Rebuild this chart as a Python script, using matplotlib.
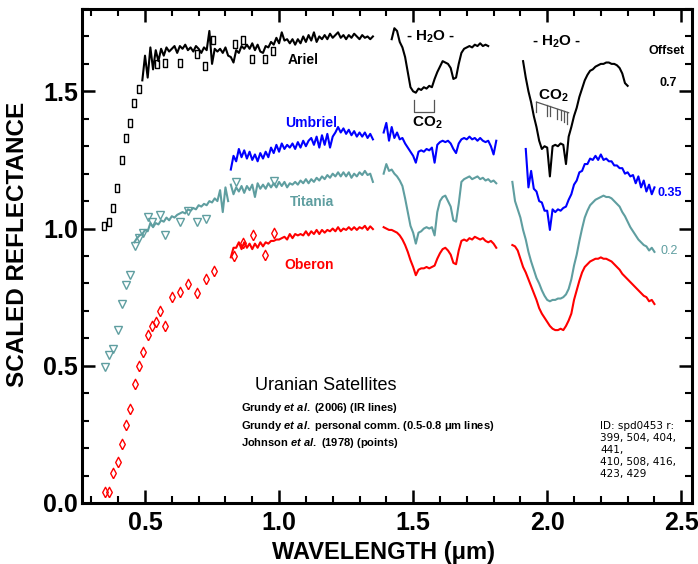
import matplotlib
matplotlib.use("Agg")
import matplotlib.pyplot as plt
import matplotlib.ticker as ticker
from matplotlib import rcParams

rcParams["font.family"] = ["Liberation Sans", "DejaVu Sans"]
rcParams["mathtext.fontset"] = "custom"
rcParams["mathtext.rm"] = "Liberation Sans:bold"
rcParams["mathtext.it"] = "Liberation Sans:italic:bold"
rcParams["mathtext.bf"] = "Liberation Sans:bold"

# wavelength grids (um) of the spectra
wl_vis = [0.46, 0.47, 0.48, 0.49, 0.50, 0.51, 0.52, 0.53, 0.54, 0.55, 0.56, 0.57,
          0.58, 0.59, 0.60, 0.61, 0.62, 0.63, 0.64, 0.65, 0.66, 0.67, 0.68, 0.69,
          0.70, 0.71, 0.72, 0.73, 0.74, 0.75, 0.76, 0.77, 0.78, 0.79, 0.80, 0.81]
wl_ir1 = [0.82, 0.83, 0.84, 0.85, 0.86, 0.87, 0.88, 0.89, 0.90, 0.91, 0.92, 0.93,
          0.94, 0.95, 0.96, 0.97, 0.98, 0.99, 1.00, 1.01, 1.02, 1.03, 1.04, 1.05,
          1.06, 1.07, 1.08, 1.09, 1.10, 1.11, 1.12, 1.13, 1.14, 1.15, 1.16, 1.17,
          1.18, 1.19, 1.20, 1.21, 1.22, 1.23, 1.24, 1.25, 1.26, 1.27, 1.28, 1.29,
          1.30, 1.31, 1.32, 1.33, 1.34, 1.35]
wl_ir2 = [1.39, 1.40, 1.41, 1.42, 1.43, 1.44, 1.45, 1.46, 1.47, 1.48, 1.49, 1.50,
          1.51, 1.52, 1.53, 1.54, 1.55, 1.56, 1.57, 1.58, 1.59, 1.60, 1.61, 1.62,
          1.63, 1.64, 1.65, 1.66, 1.67, 1.68, 1.69, 1.70, 1.71, 1.72, 1.73, 1.74,
          1.75, 1.76, 1.77, 1.78, 1.79, 1.80, 1.81]
wl_ir3 = [1.87, 1.88, 1.89, 1.90, 1.91, 1.92, 1.93, 1.94, 1.95, 1.96, 1.97, 1.98,
          1.99, 2.00, 2.01, 2.02, 2.03, 2.04, 2.05, 2.06, 2.07, 2.08, 2.09, 2.10,
          2.11, 2.12, 2.13, 2.14, 2.15, 2.16, 2.17, 2.18, 2.19, 2.20, 2.21, 2.22,
          2.23, 2.24, 2.25, 2.26, 2.27, 2.28, 2.29, 2.30, 2.31, 2.32, 2.33, 2.34,
          2.35, 2.36, 2.37, 2.38, 2.39, 2.40]

# Ariel (offset +0.7)
ariel_vis = [1.54, 1.63, 1.55, 1.66, 1.58, 1.65, 1.61, 1.655, 1.63, 1.66, 1.645,
             1.655, 1.665, 1.64, 1.665, 1.655, 1.67, 1.65, 1.66, 1.645, 1.665,
             1.655, 1.64, 1.66, 1.65, 1.72, 1.60, 1.655, 1.645, 1.655, 1.64, 1.66,
             1.63]
ariel_ir1 = [1.625, 1.605, 1.65, 1.64, 1.665, 1.655, 1.67, 1.655, 1.675, 1.65,
             1.67, 1.645, 1.64, 1.665, 1.66, 1.68, 1.67, 1.695, 1.675, 1.715,
             1.685, 1.69, 1.675, 1.69, 1.67, 1.69, 1.675, 1.70, 1.68, 1.705,
             1.685, 1.715, 1.68, 1.70, 1.69, 1.705, 1.69, 1.71, 1.695, 1.705,
             1.715, 1.695, 1.705, 1.69, 1.705, 1.695, 1.71, 1.70, 1.69, 1.705,
             1.695, 1.70, 1.69, 1.70]
ariel_ir2 = [1.69, 1.73, 1.72, 1.68, 1.66, 1.625, 1.57, 1.515, 1.50, 1.495, 1.51,
             1.505, 1.515, 1.51, 1.52, 1.515, 1.545, 1.57, 1.59, 1.61, 1.605, 1.60,
             1.585, 1.545, 1.55, 1.60, 1.64, 1.655, 1.66, 1.665, 1.66, 1.67, 1.665,
             1.675, 1.665, 1.67, 1.665]
ariel_ir3 = [1.61, 1.55, 1.50, 1.46, 1.41, 1.37, 1.32, 1.29, 1.30, 1.295, 1.19,
             1.30, 1.305, 1.30, 1.31, 1.305, 1.235, 1.335, 1.37, 1.41, 1.44, 1.48,
             1.51, 1.54, 1.56, 1.575, 1.58, 1.59, 1.595, 1.60, 1.60, 1.605, 1.605,
             1.60, 1.60, 1.595, 1.585, 1.565, 1.53, 1.52]

# Umbriel (offset +0.35)
umbriel_ir1 = [1.215, 1.265, 1.245, 1.29, 1.26, 1.285, 1.255, 1.28, 1.25, 1.27,
               1.245, 1.275, 1.255, 1.28, 1.26, 1.295, 1.275, 1.305, 1.28, 1.31,
               1.29, 1.305, 1.295, 1.31, 1.29, 1.315, 1.295, 1.32, 1.30, 1.32,
               1.33, 1.305, 1.335, 1.295, 1.34, 1.305, 1.345, 1.295, 1.335, 1.35,
               1.37, 1.35, 1.365, 1.345, 1.36, 1.34, 1.355, 1.335, 1.35, 1.335,
               1.35, 1.33, 1.345, 1.325]
umbriel_ir2 = [1.35, 1.385, 1.32, 1.37, 1.33, 1.35, 1.325, 1.33, 1.31, 1.295, 1.28,
               1.265, 1.24, 1.28, 1.285, 1.28, 1.29, 1.285, 1.295, 1.24, 1.305,
               1.315, 1.32, 1.315, 1.32, 1.31, 1.29, 1.275, 1.31, 1.325, 1.33, 1.325,
               1.335, 1.325, 1.33, 1.32, 1.33, 1.32, 1.315, 1.32, 1.30, 1.27, 1.32]
umbriel_ir3 = [1.29, 1.15, 1.21, 1.145, 1.135, 1.10, 1.095, 1.065, 1.065, 0.995,
               1.07, 1.06, 1.07, 1.065, 1.075, 1.08, 1.105, 1.125, 1.16, 1.175,
               1.205, 1.21, 1.235, 1.235, 1.255, 1.25, 1.265, 1.25, 1.27, 1.25,
               1.255, 1.245, 1.245, 1.23, 1.23, 1.22, 1.22, 1.20, 1.205, 1.19,
               1.195, 1.165, 1.19, 1.15, 1.175, 1.135, 1.16, 1.125, 1.15]

# Titania (offset +0.2)
titania_vis = [0.95, 0.965, 0.975, 0.98, 0.995, 0.99, 1.02, 1.005, 1.02, 1.015,
               1.03, 1.025, 1.04, 1.03, 1.045, 1.04, 1.05, 1.055, 1.06, 1.055, 1.07,
               1.065, 1.075, 1.07, 1.085, 1.08, 1.09, 1.085, 1.10, 1.095, 1.11, 1.10,
               1.14, 1.06, 1.15, 1.10]
titania_ir1 = [1.16, 1.125, 1.15, 1.135, 1.155, 1.13, 1.155, 1.14, 1.16, 1.115,
               1.165, 1.145, 1.16, 1.145, 1.165, 1.15, 1.165, 1.15, 1.17, 1.155,
               1.17, 1.15, 1.165, 1.16, 1.17, 1.16, 1.175, 1.165, 1.18, 1.165,
               1.18, 1.17, 1.185, 1.175, 1.19, 1.18, 1.195, 1.185, 1.20, 1.19,
               1.205, 1.19, 1.205, 1.19, 1.205, 1.185, 1.20, 1.19, 1.205, 1.195,
               1.21, 1.195, 1.20, 1.17]
titania_ir2 = [1.20, 1.235, 1.21, 1.215, 1.20, 1.19, 1.175, 1.155, 1.11, 1.06, 1.01,
               0.985, 0.945, 0.985, 0.99, 1.00, 1.005, 1.00, 1.005, 0.975, 1.06, 1.10,
               1.115, 1.12, 1.10, 1.08, 1.03, 1.025, 1.09, 1.17, 1.18, 1.185, 1.19,
               1.18, 1.185, 1.19, 1.18, 1.185, 1.175, 1.18, 1.17, 1.175, 1.165]
titania_ir3 = [1.17, 1.10, 1.07, 1.04, 0.995, 0.96, 0.915, 0.88, 0.85, 0.82, 0.80,
               0.775, 0.755, 0.74, 0.735, 0.74, 0.74, 0.745, 0.745, 0.75, 0.76, 0.78,
               0.815, 0.865, 0.905, 0.955, 1.00, 1.04, 1.065, 1.085, 1.095, 1.105,
               1.11, 1.115, 1.12, 1.115, 1.115, 1.11, 1.10, 1.09, 1.08, 1.06, 1.045,
               1.025, 1.005, 0.99, 0.975, 0.96, 0.95, 0.94, 0.935, 0.92, 0.93, 0.915]

# Oberon (no offset)
oberon_ir1 = [0.895, 0.93, 0.93, 0.95, 0.925, 0.95, 0.93, 0.945, 0.925, 0.945,
              0.93, 0.95, 0.935, 0.95, 0.945, 0.955, 0.955, 0.96, 0.96, 0.965,
              0.97, 0.96, 0.98, 0.965, 0.98, 0.975, 0.98, 0.975, 0.99, 0.975,
              0.99, 0.98, 0.995, 0.98, 0.995, 0.985, 0.995, 0.99, 1.0, 0.99,
              1.005, 0.99, 1.0, 0.995, 1.005, 0.995, 1.005, 0.995, 1.005, 1.0,
              1.01, 0.995, 1.008, 0.998]
oberon_ir2 = [1.005, 1.00, 0.995, 0.995, 0.99, 0.985, 0.975, 0.96, 0.94, 0.915,
              0.885, 0.86, 0.83, 0.85, 0.855, 0.855, 0.86, 0.855, 0.86, 0.865, 0.89,
              0.91, 0.925, 0.93, 0.92, 0.905, 0.875, 0.87, 0.92, 0.955, 0.96, 0.955,
              0.965, 0.96, 0.97, 0.965, 0.96, 0.965, 0.955, 0.95, 0.955, 0.945, 0.93]
oberon_ir3 = [0.94, 0.935, 0.92, 0.89, 0.86, 0.84, 0.815, 0.79, 0.765, 0.74, 0.71,
              0.69, 0.675, 0.66, 0.645, 0.635, 0.63, 0.63, 0.635, 0.63, 0.645, 0.665,
              0.69, 0.74, 0.775, 0.81, 0.84, 0.86, 0.87, 0.88, 0.885, 0.89, 0.89,
              0.895, 0.89, 0.89, 0.885, 0.88, 0.87, 0.86, 0.85, 0.835, 0.825, 0.815,
              0.805, 0.795, 0.785, 0.775, 0.765, 0.755, 0.75, 0.735, 0.74, 0.725]

# Johnson et al. (1978) photometry points
ariel_pts_x = [0.348, 0.366, 0.380, 0.397, 0.413, 0.429, 0.444, 0.460, 0.477, 0.546,
               0.574, 0.630, 0.694, 0.724, 0.755, 0.836, 0.865, 0.900, 0.947, 0.977]
ariel_pts_y = [1.008, 1.023, 1.076, 1.149, 1.248, 1.331, 1.383, 1.456, 1.510, 1.598,
               1.605, 1.605, 1.635, 1.592, 1.686, 1.674, 1.687, 1.619, 1.619, 1.647]
titania_pts_x = [0.349, 0.367, 0.382, 0.399, 0.415, 0.430, 0.445, 0.462, 0.478, 0.494,
                 0.510, 0.525, 0.557, 0.574, 0.630, 0.662, 0.694, 0.726, 0.841, 0.980]
titania_pts_y = [0.495, 0.538, 0.562, 0.629, 0.725, 0.796, 0.830, 0.935, 0.966, 0.984,
                 1.043, 1.024, 1.051, 0.978, 1.023, 1.063, 1.023, 1.033, 1.169, 1.173]
oberon_pts_x = [0.351, 0.367, 0.382, 0.399, 0.413, 0.430, 0.445, 0.462, 0.478, 0.494,
                0.510, 0.525, 0.542, 0.557, 0.574, 0.599, 0.630, 0.662, 0.694, 0.726,
                0.757, 0.832, 0.866, 0.901, 0.948, 0.981]
oberon_pts_y = [0.041, 0.041, 0.111, 0.151, 0.215, 0.285, 0.342, 0.433, 0.501, 0.552,
                0.613, 0.646, 0.658, 0.701, 0.646, 0.751, 0.768, 0.797, 0.764, 0.815,
                0.844, 0.901, 0.949, 0.978, 0.905, 0.985]

# CO2 band markers
co2_a_x = [1.504, 1.576]
co2_b_x = [1.960, 1.998, 2.009, 2.035, 2.050, 2.063, 2.074]
co2_b_bottom = [1.425, 1.41, 1.41, 1.40, 1.395, 1.39, 1.38]

black = "black"
blue = "#0000ff"
teal = "#5f9ea0"
red = "#ff0000"

fig = plt.figure(figsize=(6.98, 5.64), dpi=100)
ax = fig.add_axes([82 / 698, 1 - 503 / 564, 610 / 698, 494 / 564])

lw = 1.5
# spectra
ax.plot(wl_vis[3:] + wl_ir1, ariel_vis + ariel_ir1, color=black, lw=lw)
ax.plot(wl_ir2[3:40], ariel_ir2, color=black, lw=lw)
ax.plot(wl_ir3[4:44], ariel_ir3, color=black, lw=lw)

ax.plot(wl_ir1, umbriel_ir1, color=blue, lw=lw)
ax.plot(wl_ir2, umbriel_ir2, color=blue, lw=lw)
ax.plot(wl_ir3[5:], umbriel_ir3, color=blue, lw=lw)

ax.plot(wl_vis, titania_vis, color=teal, lw=lw)
ax.plot(wl_ir1, titania_ir1, color=teal, lw=lw)
ax.plot(wl_ir2, titania_ir2, color=teal, lw=lw)
ax.plot(wl_ir3, titania_ir3, color=teal, lw=lw)

ax.plot(wl_ir1, oberon_ir1, color=red, lw=lw)
ax.plot(wl_ir2, oberon_ir2, color=red, lw=lw)
ax.plot(wl_ir3, oberon_ir3, color=red, lw=lw)

# points
rect = [(-0.28, -0.5), (0.28, -0.5), (0.28, 0.5), (-0.28, 0.5), (-0.28, -0.5)]
diam = [(0, -0.5), (0.27, 0), (0, 0.5), (-0.27, 0), (0, -0.5)]
ax.plot(ariel_pts_x, ariel_pts_y, ls="none", marker=rect, ms=6, mfc="none",
        mec=black, mew=1.0)
ax.plot(titania_pts_x, titania_pts_y, ls="none", marker="v", ms=5.5, mfc="none",
        mec=teal, mew=1.0)
ax.plot(oberon_pts_x, oberon_pts_y, ls="none", marker=diam, ms=7.5, mfc="none",
        mec=red, mew=1.0)

# CO2 brackets
gray = "#555555"
ax.plot([co2_a_x[0], co2_a_x[0], co2_a_x[1], co2_a_x[1]],
        [1.467, 1.426, 1.426, 1.467], color=gray, lw=0.9)
ax.text(1.553, 1.386, "CO$_2$", fontsize=11, fontweight="bold",
        ha="center", va="center")
ax.plot([co2_b_x[0], 2.080], [1.461, 1.422], color=gray, lw=0.9)
for bx, bb in zip(co2_b_x, co2_b_bottom):
    top = 1.461 + (bx - 1.960) * (1.422 - 1.461) / (2.080 - 1.960)
    ax.plot([bx, bx], [top, bb], color=gray, lw=0.9)
ax.text(2.024, 1.485, "CO$_2$", fontsize=11, fontweight="bold",
        ha="center", va="center")

ax.text(1.566, 1.697, "- H$_2$O -", fontsize=11, fontweight="bold",
        ha="center", va="center")
ax.text(2.036, 1.681, "- H$_2$O -", fontsize=11, fontweight="bold",
        ha="center", va="center")

# satellite names
ax.text(1.088, 1.613, "Ariel", color=black, fontsize=10, fontweight="bold",
        ha="center", va="center")
ax.text(1.120, 1.386, "Umbriel", color=blue, fontsize=10, fontweight="bold",
        ha="center", va="center")
ax.text(1.123, 1.096, "Titania", color=teal, fontsize=10, fontweight="bold",
        ha="center", va="center")
ax.text(1.113, 0.869, "Oberon", color=red, fontsize=10, fontweight="bold",
        ha="center", va="center")

# offsets
ax.text(2.444, 1.647, "Offset", fontsize=9, fontweight="bold", ha="center", va="center")
ax.text(2.452, 1.532, "0.7", fontsize=9, fontweight="bold", ha="center", va="center")
ax.text(2.458, 1.130, "0.35", color=blue, fontsize=9, fontweight="bold",
        ha="center", va="center")
ax.text(2.455, 0.917, "0.2", color=teal, fontsize=9, ha="center", va="center")

# credits block
ax.text(0.909, 0.427, "Uranian Satellites", fontsize=13, ha="left", va="center")
ax.text(0.859, 0.346, r"Grundy $\it{et\ al.}$ (2006) (IR lines)", fontsize=8,
        fontweight="bold", ha="left", va="center")
ax.text(0.859, 0.282, "Grundy $\\it{et\\ al.}$ personal comm. (0.5-0.8 \u03bcm lines)",
        fontsize=8, fontweight="bold", ha="left", va="center")
ax.text(0.859, 0.218, r"Johnson $\it{et\ al.}$ (1978) (points)", fontsize=8,
        fontweight="bold", ha="left", va="center")

ax.text(2.198, 0.299, "ID: spd0453 r:\n399, 504, 404,\n441,\n410, 508, 416,\n423, 429",
        fontsize=7.5, family=["Liberation Sans Narrow", "DejaVu Sans"],
        ha="left", va="top", linespacing=1.25)

ax.set_xlim(0.265, 2.54)
ax.set_ylim(0.0, 1.8)
ax.xaxis.set_major_locator(ticker.MultipleLocator(0.5))
ax.yaxis.set_major_locator(ticker.MultipleLocator(0.5))
ax.xaxis.set_minor_locator(ticker.MultipleLocator(0.1))
ax.yaxis.set_minor_locator(ticker.MultipleLocator(0.1))
ax.xaxis.set_major_formatter(ticker.FormatStrFormatter("%.1f"))
ax.yaxis.set_major_formatter(ticker.FormatStrFormatter("%.1f"))
ax.tick_params(which="both", direction="in", top=True, right=True)
ax.tick_params(which="major", length=9.5, width=1.8, labelsize=18, pad=6)
ax.tick_params(which="minor", length=5, width=1.5)
ax.tick_params(axis="y", which="major", pad=3)
for lab in ax.get_xticklabels() + ax.get_yticklabels():
    lab.set_fontweight("bold")
for sp in ax.spines.values():
    sp.set_linewidth(2.2)

fig.text(18 / 698, 1 - 244 / 564, "SCALED REFLECTANCE", rotation=90, fontsize=17.5,
         fontweight="bold", ha="center", va="center")
fig.text(383 / 698, 1 - 552 / 564, "WAVELENGTH (\u03bcm)", fontsize=17,
         fontweight="bold", ha="center", va="center")

fig.savefig("out.png", dpi=100)
